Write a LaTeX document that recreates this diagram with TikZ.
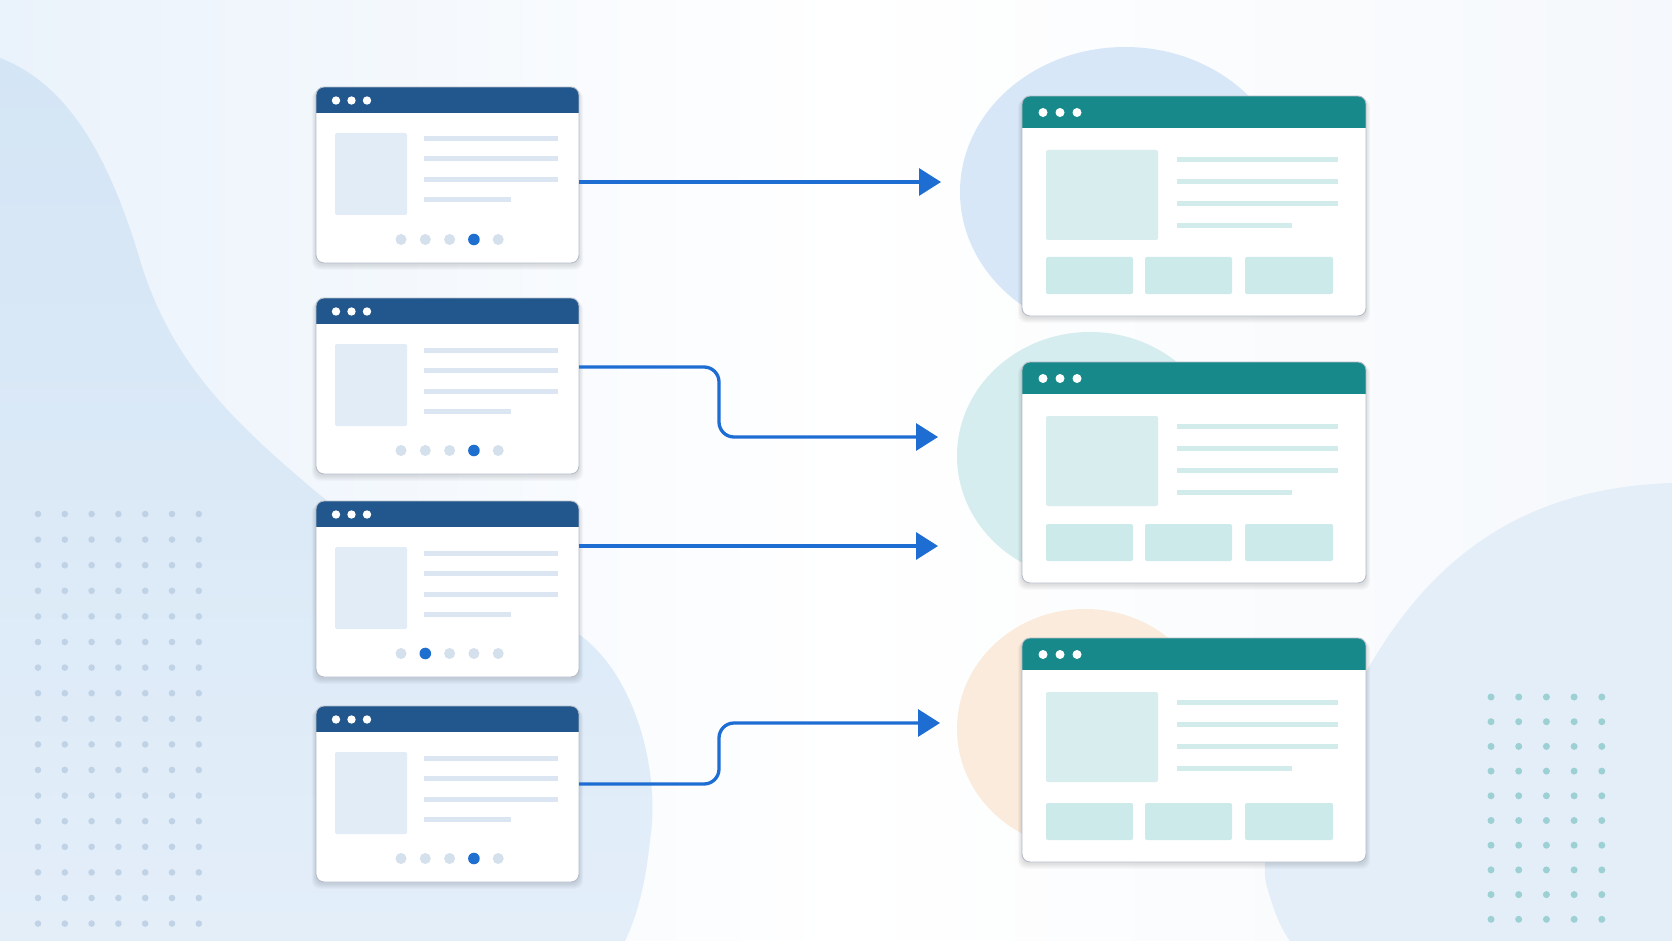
\documentclass[tikz,border=0pt]{standalone}
\usetikzlibrary{arrows.meta,calc}
\definecolor{bgL}{HTML}{EAF2FB}
\definecolor{bgR}{HTML}{F5F8FC}
\definecolor{blobA}{HTML}{D4E5F5}
\definecolor{blobB}{HTML}{E3EEF9}
\definecolor{blobR}{HTML}{E3EEF9}
\definecolor{circA}{HTML}{D7E7F8}
\definecolor{circB}{HTML}{D5EDEE}
\definecolor{circC}{HTML}{FAEBDC}
\definecolor{hdrblue}{HTML}{21578C}
\definecolor{hdrteal}{HTML}{18898A}
\definecolor{leftph}{HTML}{E2ECF7}
\definecolor{leftline}{HTML}{DCE6F2}
\definecolor{pagdot}{HTML}{D4E0EC}
\definecolor{activedot}{HTML}{1F6FD1}
\definecolor{rightph}{HTML}{D8EEEE}
\definecolor{rightline}{HTML}{D2EBEB}
\definecolor{rightbtn}{HTML}{CDEAEA}
\definecolor{arrowblue}{HTML}{1E6DD3}
\definecolor{winedge}{HTML}{B3BCC8}
\definecolor{ldot}{HTML}{BBCEE2}
\definecolor{rdot}{HTML}{9DD0D3}
\tikzset{
  winbox/.style={fill=white, rounded corners=8pt, inner sep=0pt, outer sep=0pt},
  winframe/.style={draw=winedge, line width=0.9pt, rounded corners=8pt},
  conn/.style={draw=arrowblue, line width=3.3pt, rounded corners=15pt,
    -{Triangle[length=22pt,width=27pt]}},
  hdot/.style={fill=white},
}
\newcommand\WinShadow[2]{%
  \foreach \k in {1,...,6}
    \fill[black,opacity=0.02,rounded corners=8pt]
      ({-\k*0.7},{2+\k*0.2}) rectangle ({#1+\k*0.7},{#2+1.5+\k*0.9});}
\newcommand\LWin[4]{%
  \begin{scope}[shift={(#2,#3)}]
    \WinShadow{263}{176}
    \node[winbox, minimum width=263pt, minimum height=176pt] (#1) at (131.5,88) {};
    \begin{scope}
      \clip[rounded corners=8pt] (0,0) rectangle (263,176);
      \fill[hdrblue] (0,0) rectangle (263,26);
    \end{scope}
    \draw[winframe] (0,0) rectangle (263,176);
    \foreach \dx in {20,35.5,51} \fill[hdot] (\dx,13.5) circle (4.2pt);
    \fill[leftph, rounded corners=2pt] (19,46) rectangle (91,128);
    \foreach \ly in {52,72,93} \fill[leftline] (108,\ly-2.5) rectangle (242,\ly+2.5);
    \fill[leftline] (108,110.5) rectangle (195,115.5);
    \foreach \i in {1,...,5}{%
      \pgfmathsetmacro\px{85+(\i-1)*24.3}
      \ifnum\i=#4\relax
        \fill[activedot] (\px,152.5) circle (5.8pt);
      \else
        \fill[pagdot] (\px,152.5) circle (5.5pt);
      \fi}
  \end{scope}}
\newcommand\RWin[4]{%
  \begin{scope}[shift={(#2,#3)}]
    \WinShadow{344}{#4}
    \node[winbox, minimum width=344pt, minimum height=#4pt] (#1) at (172,{#4/2}) {};
    \begin{scope}
      \clip[rounded corners=8pt] (0,0) rectangle (344,#4);
      \fill[hdrteal] (0,0) rectangle (344,32);
    \end{scope}
    \draw[winframe] (0,0) rectangle (344,#4);
    \foreach \dx in {21,38,55} \fill[hdot] (\dx,16.5) circle (4.5pt);
    \fill[rightph, rounded corners=2pt] (24,54) rectangle (136,144);
    \foreach \ly in {64,86,108} \fill[rightline] (155,\ly-2.5) rectangle (316,\ly+2.5);
    \fill[rightline] (155,127.5) rectangle (270,132.5);
    \fill[rightbtn, rounded corners=2pt] (24,{#4-59}) rectangle (111,{#4-22});
    \fill[rightbtn, rounded corners=2pt] (123,{#4-59}) rectangle (210,{#4-22});
    \fill[rightbtn, rounded corners=2pt] (223,{#4-59}) rectangle (311,{#4-22});
  \end{scope}}
\begin{document}
\begin{tikzpicture}[x=1pt,y=-1pt]
\useasboundingbox (0,0) rectangle (1672,941);
% background
\shade[left color=bgL, right color=bgR, middle color=white] (0,0) rectangle (1672,941);
% left blob
\shade[top color=blobA, bottom color=blobB]
  (0,58) .. controls (70,85) and (110,160) .. (140,260)
  .. controls (170,360) and (230,420) .. (320,495)
  .. controls (400,560) and (500,590) .. (580,635)
  .. controls (640,680) and (660,780) .. (650,840)
  .. controls (645,890) and (635,920) .. (625,941)
  -- (0,941) -- cycle;
% right blob
\fill[blobR]
  (1672,483) .. controls (1520,488) and (1430,560) .. (1366,672)
  .. controls (1310,770) and (1250,840) .. (1268,890)
  .. controls (1275,915) and (1282,930) .. (1290,941)
  -- (1672,941) -- cycle;
% dot grids
\foreach \c in {0,...,6} \foreach \r in {0,...,16}
  \fill[ldot,opacity=0.85] ({38+\c*26.8},{514+\r*25.6}) circle (3.3pt);
\foreach \c in {0,...,4} \foreach \r in {0,...,9}
  \fill[rdot] ({1491+\c*27.7},{697+\r*24.7}) circle (3.5pt);
% circles behind right windows
\begin{scope}
  \clip (0,0) rectangle (1672,312);
  \fill[circA] (1125,192) ellipse [x radius=165, y radius=145];
\end{scope}
\fill[circB] (1090,456) ellipse [x radius=133, y radius=124];
\fill[circC] (1085,729) ellipse [x radius=128, y radius=120];
% windows
\LWin{L1}{316}{87}{4}
\LWin{L2}{316}{298}{4}
\LWin{L3}{316}{501}{2}
\LWin{L4}{316}{706}{4}
\RWin{R1}{1022}{96}{220}
\RWin{R2}{1022}{362}{221}
\RWin{R3}{1022}{638}{224}
% arrow end points
\coordinate (e1) at (941,182);
\coordinate (e2) at (938,437);
\coordinate (e3) at (938,546);
\coordinate (e4) at (940,723);
% connectors
\draw[conn] ([yshift=-7pt]L1.east) -- (e1);
\draw[conn] ([yshift=19pt]L2.east) -- ++(140,0) |- (e2);
\draw[conn] ([yshift=43pt]L3.east) -- (e3);
\draw[conn] ([yshift=10pt]L4.east) -- ++(140,0) |- (e4);
\end{tikzpicture}
\end{document}
